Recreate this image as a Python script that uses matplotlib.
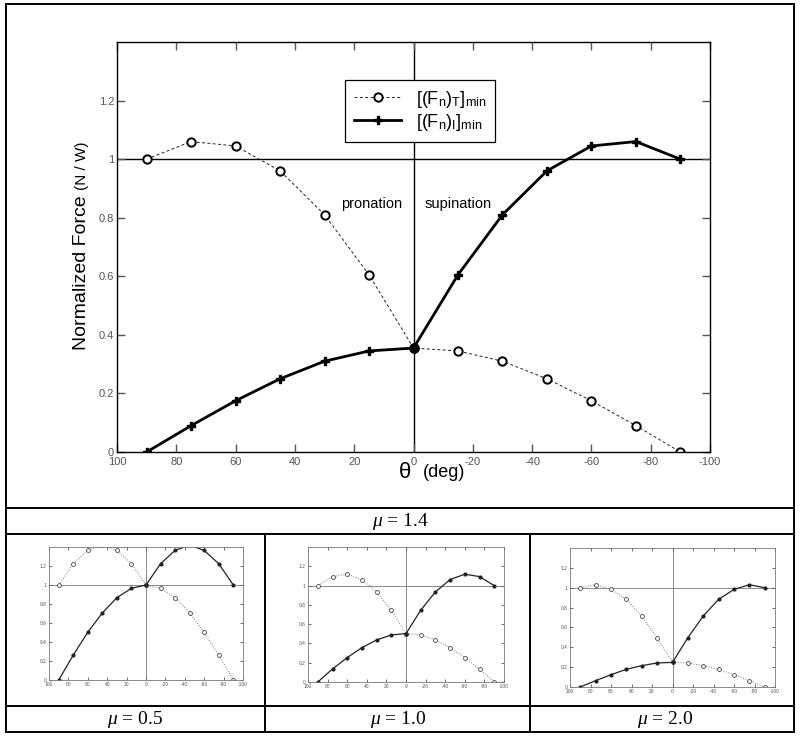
import matplotlib
matplotlib.use('Agg')
import matplotlib.pyplot as plt
from matplotlib.lines import Line2D

plt.rcParams['font.family'] = ['Liberation Sans', 'DejaVu Sans']
plt.rcParams['mathtext.fontset'] = 'custom'
plt.rcParams['mathtext.rm'] = 'Liberation Sans'
plt.rcParams['mathtext.it'] = 'Liberation Serif:italic'

# angle (deg)
theta = [90, 75, 60, 45, 30, 15, 0, -15, -30, -45, -60, -75, -90]

# mu = 1.4 (main panel)
ft_14 = [1.0, 1.06, 1.045, 0.96, 0.81, 0.605, 0.355, 0.345, 0.31, 0.25, 0.175, 0.09, 0.0]
fi_14 = [0.0, 0.09, 0.175, 0.25, 0.31, 0.345, 0.355, 0.605, 0.81, 0.96, 1.045, 1.06, 1.0]

# mu = 0.5
ft_05 = [1.0, 1.224, 1.364, 1.42, 1.364, 1.224, 1.0, 0.965, 0.867, 0.706, 0.503, 0.262, 0.0]
fi_05 = [0.0, 0.262, 0.503, 0.706, 0.867, 0.965, 1.0, 1.224, 1.364, 1.42, 1.364, 1.224, 1.0]

# mu = 1.0
ft_10 = [1.0, 1.093, 1.118, 1.062, 0.934, 0.744, 0.502, 0.488, 0.436, 0.356, 0.253, 0.135, 0.0]
fi_10 = [0.0, 0.135, 0.253, 0.356, 0.436, 0.488, 0.502, 0.744, 0.934, 1.062, 1.118, 1.093, 1.0]

# mu = 2.0
ft_20 = [1.0, 1.03, 0.983, 0.883, 0.715, 0.497, 0.248, 0.242, 0.215, 0.178, 0.124, 0.064, 0.0]
fi_20 = [0.0, 0.064, 0.124, 0.178, 0.215, 0.242, 0.248, 0.497, 0.715, 0.883, 0.983, 1.03, 1.0]

xticks = [100, 80, 60, 40, 20, 0, -20, -40, -60, -80, -100]
yticks = [0, 0.2, 0.4, 0.6, 0.8, 1.0, 1.2]
ytick_labels = ['0', '0.2', '0.4', '0.6', '0.8', '1', '1.2']

W, H = 800, 738
fig = plt.figure(figsize=(8, 7.38), dpi=100, facecolor='white')


def px_axes(l, r, t, b):
    return fig.add_axes([l / W, 1 - b / H, (r - l) / W, (b - t) / H])


def style_axes(ax, size, col, lw):
    ax.set_xlim(100, -100)
    ax.set_ylim(0, 1.4)
    ax.set_xticks(xticks)
    ax.set_xticklabels([str(v) for v in xticks])
    ax.set_yticks(yticks)
    ax.set_yticklabels(ytick_labels)
    ax.tick_params(direction='in', top=True, right=True, labelsize=size,
                   colors='#555555', width=lw, length=size * 0.7, pad=2)
    ax.tick_params(axis='x', pad=size * 0.45)
    for s in ax.spines.values():
        s.set_color(col)
        s.set_linewidth(lw)
    ax.axhline(1.0, color=col, lw=lw, zorder=1)
    ax.axvline(0, color=col, lw=lw, zorder=1)


# main panel
ax = px_axes(117, 710, 42, 452)
style_axes(ax, 8, 'black', 1.0)
ax.plot(theta, ft_14, color='#222222', lw=0.7, ls=(0, (3, 2.5)), marker='o',
        ms=6, mfc='white', mec='black', mew=1.4,
        label=r'$[(\mathrm{F}_\mathrm{n})_\mathrm{T}]_\mathrm{min}$')
ax.plot(theta, fi_14, color='black', lw=2.0, marker='P', ms=5.5,
        mfc='black', mec='black',
        label=r'$[(\mathrm{F}_\mathrm{n})_\mathrm{I}]_\mathrm{min}$')
ax.plot([0], [ft_14[6]], 'o', color='black', ms=6.5)
leg = ax.legend(loc='upper left', bbox_to_anchor=(0.37, 0.93), fontsize=13,
                fancybox=False, framealpha=1, edgecolor='black',
                handlelength=2.6, borderpad=0.5, labelspacing=0.1)
leg.get_frame().set_linewidth(0.9)
ax.annotate('pronation', (0, 0.846), xytext=(-8, 0), textcoords='offset points',
            ha='right', va='center', fontsize=10.5)
ax.annotate('supination', (0, 0.846), xytext=(8, 0), textcoords='offset points',
            ha='left', va='center', fontsize=10.5)
ax.text(0.497, -0.05, 'θ', transform=ax.transAxes, ha='right', va='center',
        fontsize=16)
ax.text(0.515, -0.05, '(deg)', transform=ax.transAxes, ha='left', va='center',
        fontsize=13)

# y label in two sizes
fig.canvas.draw()
r = fig.canvas.get_renderer()
t1 = fig.text(82 / W, 1 - 350 / H, 'Normalized Force ', rotation=90,
              ha='center', va='bottom', fontsize=14)
bb = t1.get_window_extent(r)
fig.text(82 / W, bb.y1 / fig.bbox.height, '(N / W)', rotation=90,
         ha='center', va='bottom', fontsize=11)

# small panels
small = [
    ((49, 243, 547, 680), ft_05, fi_05),
    ((308, 504, 547, 682), ft_10, fi_10),
    ((570, 775, 548, 687), ft_20, fi_20),
]
for box, ft, fi in small:
    a = px_axes(*box)
    style_axes(a, 3.5, '#777777', 0.6)
    a.plot(theta, ft, color='#777777', lw=0.7, ls=':', marker='o', ms=2.8,
           mfc='white', mec='#444444', mew=0.6)
    a.plot(theta, fi, color='#222222', lw=0.9, marker='o', ms=2.0,
           mfc='#222222', mec='#222222')

# table frame
def hline(y, x0=6, x1=794):
    fig.add_artist(Line2D([x0 / W, x1 / W], [1 - y / H, 1 - y / H],
                          color='black', lw=1.4))


def vline(x, y0, y1):
    fig.add_artist(Line2D([x / W, x / W], [1 - y0 / H, 1 - y1 / H],
                          color='black', lw=1.4))


for y in (4, 508, 534, 706, 732):
    hline(y)
vline(6, 4, 732)
vline(794, 4, 732)
vline(265, 534, 732)
vline(530, 534, 732)

mu_labels = [(400, 521, '1.4'), (135, 719, '0.5'), (398, 719, '1.0'), (665, 719, '2.0')]
for x, y, v in mu_labels:
    fig.text(x / W, 1 - y / H, r'$\mu$ = ' + v, ha='center', va='center',
             fontsize=14, family='Liberation Serif')

fig.savefig('out.png', dpi=100, facecolor='white')
